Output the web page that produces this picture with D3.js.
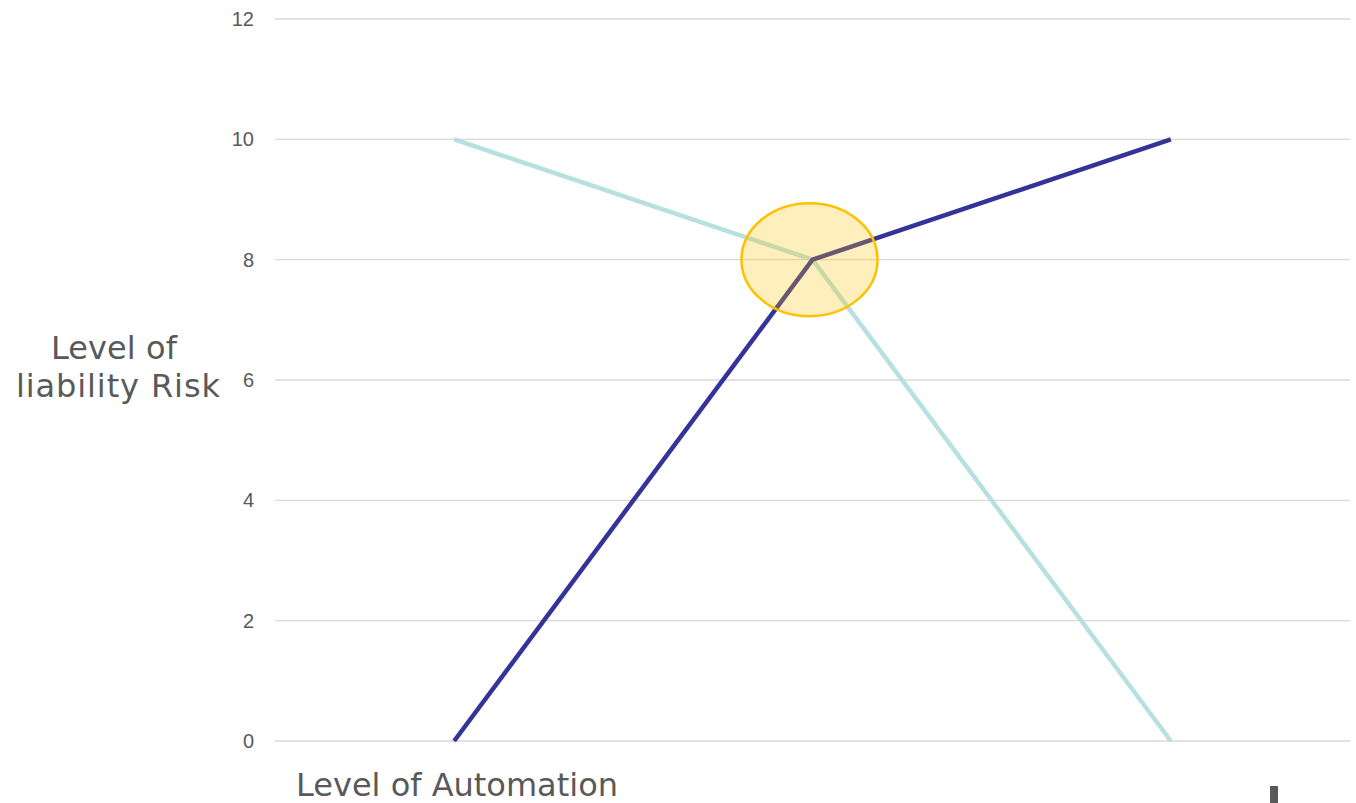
<!DOCTYPE html>
<html><head><meta charset="utf-8">
<script src="https://cdn.jsdelivr.net/npm/d3@7"></script>
<style>body{margin:0;background:#fff;} svg{display:block;}</style>
</head><body>
<svg id="c" width="1356" height="803"></svg>
<script>
const categories = ["Low", "Medium", "High"];
const driverRisk = [0, 8, 10];
const humanRisk = [10, 8, 0];
const yTicks = [0, 2, 4, 6, 8, 10, 12];
const highlightValue = 8;

const svg = d3.select("#c");
const pLeft = 275, pRight = 1350, pTop = 19, pBottom = 741;
const x = d3.scaleBand().domain(categories).range([pLeft, pRight]);
const y = d3.scaleLinear().domain([0, 12]).range([pBottom, pTop]);
const cx = c => x(c) + x.bandwidth() / 2;

svg.append("g").selectAll("line").data(yTicks).join("line")
  .attr("x1", pLeft).attr("x2", pRight)
  .attr("y1", d => y(d)).attr("y2", d => y(d))
  .attr("stroke", "#d9d9d9").attr("stroke-width", 1.3);

const yAxis = d3.axisLeft(y).tickValues(yTicks).tickSize(0).tickPadding(0);
const ga = svg.append("g").attr("transform", `translate(254,0)`).call(yAxis);
ga.select(".domain").remove();
ga.selectAll("text").attr("font-family", "Liberation Sans, Arial, sans-serif")
  .attr("font-size", 20).attr("fill", "#595959");

const line = d3.line().x((d, i) => cx(categories[i])).y(d => y(d));
svg.append("path").datum(humanRisk).attr("d", line).attr("fill", "none")
  .attr("stroke", "#b7e0e1").attr("stroke-width", 4.5).attr("stroke-linejoin", "miter");
svg.append("path").datum(driverRisk).attr("d", line).attr("fill", "none")
  .attr("stroke", "#333399").attr("stroke-width", 4.5).attr("stroke-linejoin", "miter");

svg.append("ellipse")
  .attr("cx", cx(categories[1]) - 3).attr("cy", y(highlightValue))
  .attr("rx", 68).attr("ry", 56.5)
  .attr("fill", "#ffc000").attr("fill-opacity", 0.26)
  .attr("stroke", "#ffc000").attr("stroke-width", 2.5);

const tf = "DejaVu Sans, Verdana, sans-serif";
function label(txt, xx, yy, len) {
  svg.append("text").attr("x", xx).attr("y", yy)
    .attr("font-family", tf).attr("font-size", 32).attr("fill", "#595959")
    .attr("textLength", len).attr("lengthAdjust", "spacing").text(txt);
}
label("Level of", 51, 359, 126);
label("liability Risk", 16, 397, 204);
label("Level of Automation", 296, 796, 322);
svg.append("rect").attr("x", 1270).attr("y", 786).attr("width", 8).attr("height", 17).attr("fill", "#595959");
</script>
</body></html>
